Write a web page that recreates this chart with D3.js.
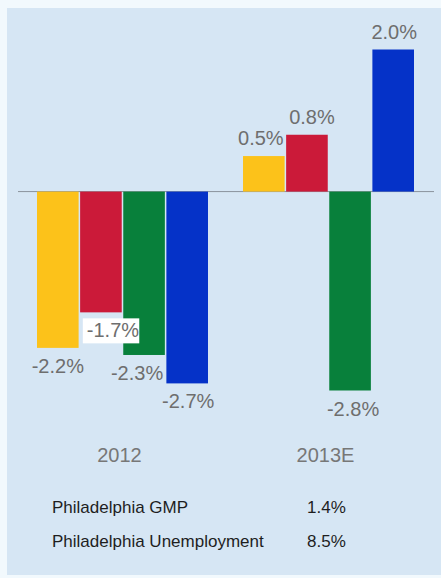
<!DOCTYPE html>
<html>
<head>
<meta charset="utf-8">
<script src="https://cdn.jsdelivr.net/npm/d3@7"></script>
<style>
  html, body { margin: 0; padding: 0; background: #f2f9fd; }
  svg { display: block; }
</style>
</head>
<body>
<svg id="chart" width="441" height="578"></svg>
<script>
// Categories and series (percent change)
const categories = ["2012", "2013E"];
const seriesNames = ["s1", "s2", "s3", "s4"];
const values2012 = [-2.2, -1.7, -2.3, -2.7];
const values2013E = [0.5, 0.8, -2.8, 2.0];
const seriesColors = ["#fcc21a", "#cb1a39", "#08803b", "#0532c8"];

// Summary table below the chart
const tableLabels = ["Philadelphia GMP", "Philadelphia Unemployment"];
const tableValues = ["1.4%", "8.5%"];

// Small horizontal nudges for value labels that sit off-centre
const labelNudge = [[0, 12, -7, 1], [-3, 5, 3, 1]];

const data = categories.map((c, i) => ({
  category: c,
  values: (i === 0 ? values2012 : values2013E)
}));

const svg = d3.select("#chart");
const W = 441, H = 578;

// Panel background
svg.append("rect")
  .attr("x", 7).attr("y", 8)
  .attr("width", W - 7).attr("height", 567)
  .attr("fill", "#d6e6f4");

const x0 = d3.scaleBand()
  .domain(categories)
  .range([37, 414])
  .paddingInner(0.17)
  .paddingOuter(0);

const x1 = d3.scaleBand()
  .domain(seriesNames)
  .range([0, x0.bandwidth()])
  .paddingInner(0.035);

const y = d3.scaleLinear()
  .domain([-2.8, 2.0])
  .range([390.5, 49.5]);

// Plain hyphen for negatives
const fmt = v => d3.format(".1f")(v).replace("\u2212", "-") + "%";

// Zero line
svg.append("line")
  .attr("x1", 18).attr("x2", 434)
  .attr("y1", y(0)).attr("y2", y(0))
  .attr("stroke", "#8a939c")
  .attr("stroke-width", 1);

const groups = svg.selectAll("g.grp")
  .data(data)
  .join("g")
  .attr("class", "grp")
  .attr("transform", d => `translate(${x0(d.category)},0)`);

groups.selectAll("rect.bar")
  .data(d => d.values.map((v, i) => ({ v, i })))
  .join("rect")
  .attr("class", "bar")
  .attr("x", d => x1(seriesNames[d.i]))
  .attr("width", x1.bandwidth())
  .attr("y", d => y(Math.max(0, d.v)))
  .attr("height", d => Math.abs(y(d.v) - y(0)))
  .attr("fill", d => seriesColors[d.i]);

// Value labels
groups.each(function (g, gi) {
  const sel = d3.select(this);
  g.values.forEach((v, i) => {
    const cx = x1(seriesNames[i]) + x1.bandwidth() / 2 + labelNudge[gi][i];
    const yy = v >= 0 ? y(v) - 11 : y(v) + 25;
    const t = sel.append("text")
      .attr("x", cx)
      .attr("y", yy)
      .attr("text-anchor", "middle")
      .attr("font-family", "Liberation Sans, Arial, sans-serif")
      .attr("font-size", 20)
      .attr("fill", "#6e6e6e")
      .text(fmt(v));
    // The label that overlaps a neighbouring bar gets a white backing
    if (gi === 0 && i === 1) {
      const bb = t.node().getBBox();
      sel.insert("rect", () => t.node())
        .attr("x", bb.x - 4)
        .attr("y", yy - 19)
        .attr("width", bb.width + 4)
        .attr("height", 25)
        .attr("fill", "#ffffff");
    }
  });
});

// Category axis labels
svg.selectAll("text.cat")
  .data(categories)
  .join("text")
  .attr("class", "cat")
  .attr("x", d => x0(d) + x0.bandwidth() / 2 - 3)
  .attr("y", 462)
  .attr("text-anchor", "middle")
  .attr("font-family", "Liberation Sans, Arial, sans-serif")
  .attr("font-size", 20)
  .attr("fill", "#777777")
  .text(d => d);

// Summary table
const rowY = d3.scalePoint().domain(tableLabels).range([513, 547]);

svg.selectAll("text.tlabel")
  .data(tableLabels)
  .join("text")
  .attr("class", "tlabel")
  .attr("x", 52)
  .attr("y", d => rowY(d))
  .attr("font-family", "Liberation Sans, Arial, sans-serif")
  .attr("font-size", 17)
  .attr("fill", "#1e1e1e")
  .text(d => d);

svg.selectAll("text.tvalue")
  .data(tableValues)
  .join("text")
  .attr("class", "tvalue")
  .attr("x", 307)
  .attr("y", (d, i) => rowY(tableLabels[i]))
  .attr("font-family", "Liberation Sans, Arial, sans-serif")
  .attr("font-size", 17)
  .attr("fill", "#1e1e1e")
  .text(d => d);
</script>
</body>
</html>
